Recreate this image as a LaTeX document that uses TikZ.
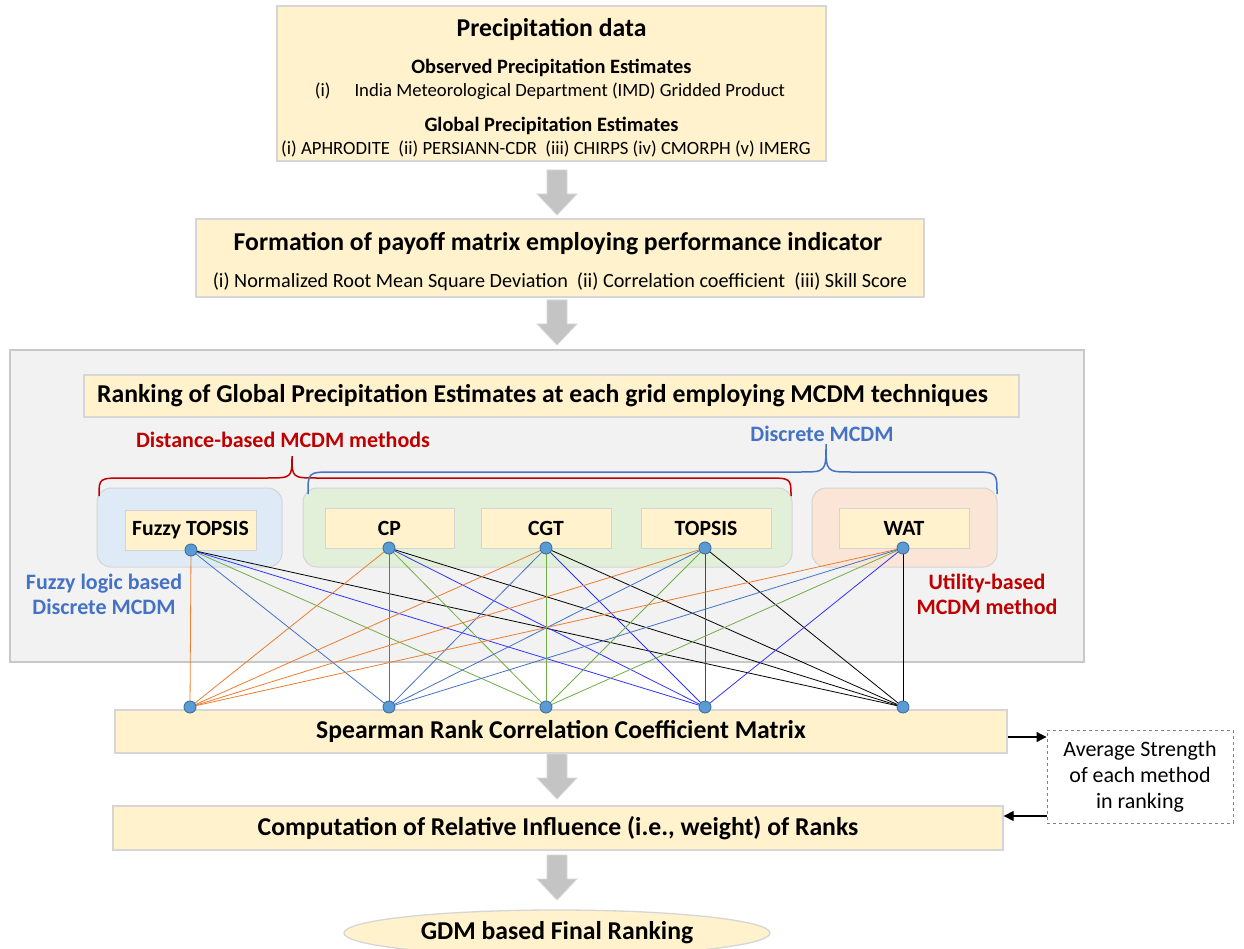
\documentclass[tikz,border=0pt]{standalone}
\usepackage{fontspec}
\setmainfont{Carlito}
\usetikzlibrary{shapes.geometric,arrows.meta,calc}
\definecolor{boxfill}{HTML}{FFF2CC}
\definecolor{boxline}{HTML}{D6D6D6}
\definecolor{panelfill}{HTML}{F2F2F2}
\definecolor{panelline}{HTML}{C8C8C8}
\definecolor{grpblue}{HTML}{DEEBF7}
\definecolor{grpgreen}{HTML}{E2F0D9}
\definecolor{grporange}{HTML}{FBE5D6}
\definecolor{grpline}{HTML}{D4D4D4}
\definecolor{redtxt}{HTML}{C00000}
\definecolor{bluetxt}{HTML}{4472C4}
\definecolor{lorange}{HTML}{ED7D31}
\definecolor{lsteel}{HTML}{4472C4}
\definecolor{lgreen}{HTML}{70AD47}
\definecolor{lblue}{HTML}{3333FF}
\definecolor{dotfill}{HTML}{5B9BD5}
\definecolor{dotline}{HTML}{41719C}
\definecolor{arrfill}{HTML}{C4C4C4}
\definecolor{arrline}{HTML}{D9D9D9}
\pgfdeclarelayer{bg}\pgfdeclarelayer{mid}\pgfsetlayers{bg,mid,main}
\newcommand\blockarr[2]{\draw[garrow] (#1-10,#2) -- (#1+10,#2) -- (#1+10,#2+24) -- (#1+20,#2+24) -- (#1,#2+45) -- (#1-20,#2+24) -- (#1-10,#2+24) -- cycle;}
\begin{document}
\begin{tikzpicture}[x=1pt,y=-1pt,
 ybox/.style={draw=boxline, fill=boxfill, line width=1.3pt, inner sep=0pt},
 big/.style={font=\fontsize{25.7}{30}\selectfont\bfseries},
 sub/.style={font=\fontsize{20.4}{24}\selectfont\bfseries},
 reg/.style={font=\fontsize{18.7}{22}\selectfont},
 regb/.style={font=\fontsize{20.2}{24}\selectfont},
 lab/.style={font=\fontsize{22}{25}\selectfont\bfseries, align=center},
 inner/.style={draw=grpline, fill=boxfill, line width=1pt, inner sep=0pt, minimum height=40pt, font=\fontsize{21.7}{25}\selectfont\bfseries},
 grp/.style={rounded corners=14pt, draw=grpline, line width=1pt, inner sep=0pt, minimum height=79pt},
 dot/.style={circle, fill=dotfill, draw=dotline, line width=0.9pt, minimum size=12pt, inner sep=0pt},
 conn/.style={line width=0.8pt},
 garrow/.style={fill=arrfill, draw=arrline, line width=0.8pt},
 arr/.style={line width=1.2pt, -{Triangle[length=10pt,width=10pt]}},
]
\useasboundingbox (0,0) rectangle (1244,949);
\begin{pgfonlayer}{bg}
\fill[white] (0,0) rectangle (1244,949);
\end{pgfonlayer}

% top box
\node[ybox, minimum width=549pt, minimum height=155pt] (pd) at (551.5,83.5) {};
\node[big, anchor=base] (pdt) at (551.5,37) {Precipitation data};
\node[sub, anchor=base] (obs) at (551.5,74) {Observed Precipitation Estimates};
\node[reg, anchor=base] (imd) at (550,97) {(i)\hspace{24pt}India Meteorological Department (IMD) Gridded Product};
\node[sub, anchor=base] (glb) at (551.5,132) {Global Precipitation Estimates};
\node[reg, anchor=base] (lst) at (546,155) {(i) APHRODITE\ \ (ii) PERSIANN-CDR\ \ (iii) CHIRPS (iv) CMORPH (v) IMERG};

\blockarr{557}{170}

% payoff box
\node[ybox, minimum width=728pt, minimum height=78pt] (pm) at (560,258) {};
\node[big, anchor=base] (pmt) at (558,251) {Formation of payoff matrix employing performance indicator};
\node[regb, anchor=base] (pms) at (560,288) {(i) Normalized Root Mean Square Deviation\ \ (ii) Correlation coefficient\ \ (iii) Skill Score};

\blockarr{557}{300}

% panel
\begin{pgfonlayer}{bg}
\node[draw=panelline, fill=panelfill, line width=1.2pt, minimum width=1074pt, minimum height=312pt, inner sep=0pt] (panel) at (547,506) {};
\node[grp, fill=grpblue, minimum width=185pt] (gb) at (189.5,527.5) {};
\node[grp, fill=grpgreen, minimum width=489pt] (gg) at (547.5,527.5) {};
\node[grp, fill=grporange, minimum width=185pt] (go) at (904.5,527.5) {};
\end{pgfonlayer}

\node[ybox, minimum width=935pt, minimum height=42pt] (rk) at (551.5,396) {};
\node[big] (rkt) at (542.5,396) {Ranking of Global Precipitation Estimates at each grid employing MCDM techniques};

% braces
\draw[redtxt, line width=1.5pt] (99,496) .. controls (99,478) and (99,478) .. (125,478) -- (266,478) .. controls (292,478) and (292,478) .. (292,456) .. controls (292,478) and (292,478) .. (318,478) -- (765,478) .. controls (791,478) and (791,478) .. (791,496);
\draw[bluetxt, line width=1.5pt] (308,494) .. controls (308,472) and (308,472) .. (334,472) -- (800,472) .. controls (826,472) and (826,472) .. (826,444) .. controls (826,472) and (826,472) .. (852,472) -- (971,472) .. controls (997,472) and (997,472) .. (997,494);
\node[lab, text=redtxt] (dist) at (283,440) {Distance-based MCDM methods};
\node[lab, text=bluetxt] (disc) at (822,434) {Discrete MCDM};
\node[lab, text=bluetxt] (fzl) at (104,594) {Fuzzy logic based\\Discrete MCDM};
\node[lab, text=redtxt] (util) at (987,594) {Utility-based\\MCDM method};

% inner boxes
\node[inner, minimum width=131pt] (ft) at (190.5,530) {Fuzzy TOPSIS};
\node[inner, minimum width=129pt] (cp) at (389.5,528) {CP};
\node[inner, minimum width=130pt] (cgt) at (546,528) {CGT};
\node[inner, minimum width=130pt] (tp) at (706,528) {TOPSIS};
\node[inner, minimum width=130pt] (wat) at (904,528) {WAT};

% lower boxes
\node[ybox, big, minimum width=892pt, minimum height=43pt] (sp) at (561,731.5) {Spearman Rank Correlation Coefficient Matrix};
\node[ybox, big, minimum width=890pt, minimum height=44pt] (comp) at (558,828) {Computation of Relative Influence (i.e., weight) of Ranks};
\node[draw=gray, dashed, line width=1pt, minimum width=186pt, minimum height=93pt, align=center, font=\fontsize{22}{26}\selectfont] (avg) at (1140,776.5) {Average Strength\\of each method\\in ranking};
\node[ybox, ellipse, big, minimum width=426pt, minimum height=46pt] (gdm) at (557,933) {GDM based Final Ranking};

% dots
\node[dot] (t1) at (191,550) {};
\node[dot] (t2) at (389,548) {};
\node[dot] (t3) at (546,548) {};
\node[dot] (t4) at (705,548) {};
\node[dot] (t5) at (903,548) {};
\node[dot] (b1) at (190,707) {};
\node[dot] (b2) at (389,707) {};
\node[dot] (b3) at (546,707) {};
\node[dot] (b4) at (705,707) {};
\node[dot] (b5) at (903,707) {};

\begin{pgfonlayer}{mid}
\foreach \i in {1,...,5}{
  \draw[conn, lorange] (t\i.center) -- (b1.center);
  \draw[conn, lsteel] (t\i.center) -- (b2.center);
  \draw[conn, lgreen] (t\i.center) -- (b3.center);
  \draw[conn, lblue] (t\i.center) -- (b4.center);
  \draw[conn, black] (t\i.center) -- (b5.center);
}
\end{pgfonlayer}

\blockarr{557}{754}
\blockarr{557}{855}

\coordinate (s1) at ([yshift=-5.5pt]sp.east);
\draw[arr] (s1) -- (s1 -| avg.west);
\coordinate (c1) at ([yshift=12pt]comp.east);
\draw[arr] (c1 -| avg.west) -- (c1);
\end{tikzpicture}
\end{document}
